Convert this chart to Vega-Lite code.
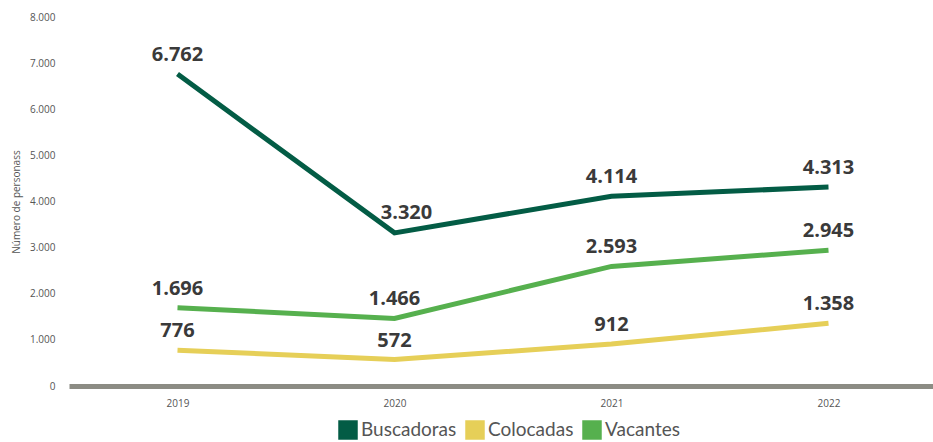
{
  "$schema": "https://vega.github.io/schema/vega-lite/v6.json",
  "width": 866,
  "height": 369,
  "autosize": "none",
  "padding": {"left": 67, "top": 17, "right": 0, "bottom": 56},
  "config": {
    "view": {"stroke": null},
    "font": "Open Sans",
    "locale": {"number": {"decimal": ",", "thousands": ".", "grouping": [3], "currency": ["", " €"]}}
  },
  "data": {
    "values": [
      {"anio": "2019", "serie": "Buscadoras", "valor": 6762},
      {"anio": "2020", "serie": "Buscadoras", "valor": 3320},
      {"anio": "2021", "serie": "Buscadoras", "valor": 4114},
      {"anio": "2022", "serie": "Buscadoras", "valor": 4313},
      {"anio": "2019", "serie": "Colocadas", "valor": 776},
      {"anio": "2020", "serie": "Colocadas", "valor": 572},
      {"anio": "2021", "serie": "Colocadas", "valor": 912},
      {"anio": "2022", "serie": "Colocadas", "valor": 1358},
      {"anio": "2019", "serie": "Vacantes", "valor": 1696},
      {"anio": "2020", "serie": "Vacantes", "valor": 1466},
      {"anio": "2021", "serie": "Vacantes", "valor": 2593},
      {"anio": "2022", "serie": "Vacantes", "valor": 2945}
    ]
  },
  "encoding": {
    "x": {
      "field": "anio", "type": "ordinal",
      "scale": {"paddingInner": 0, "paddingOuter": 0.5, "range": [2, 870]},
      "axis": {"title": null, "labelAngle": 0, "ticks": false, "domainColor": "#8c8c84", "domainWidth": 5, "labelColor": "#555555", "labelFontSize": 10, "labelPadding": 12, "grid": false}
    },
    "y": {
      "field": "valor", "type": "quantitative",
      "scale": {"domain": [0, 8000], "nice": false},
      "axis": {"title": "Número de personass", "titleFontWeight": "normal", "titleFontSize": 10, "titleColor": "#555555", "titlePadding": 8, "values": [0,1000,2000,3000,4000,5000,6000,7000,8000], "format": ",d", "grid": false, "domain": false, "ticks": false, "labelColor": "#555555", "labelFontSize": 10, "labelPadding": 12}
    },
    "color": {
      "field": "serie", "type": "nominal",
      "scale": {"domain": ["Buscadoras", "Colocadas", "Vacantes"], "range": ["#035c45", "#e6cf58", "#56b04e"]},
      "legend": {
        "title": null, "orient": "none", "legendX": 271, "legendY": 403, "direction": "horizontal",
        "symbolType": "square", "symbolSize": 380, "symbolStrokeWidth": 0, "symbolOpacity": 1,
        "labelFontSize": 19, "labelColor": "#555555", "labelOffset": 3, "columnPadding": 8, "labelFont": "Lato",
        "encode": {"symbols": {"update": {"fill": {"scale": "color", "field": "value"}, "strokeWidth": {"value": 0}}}}
      }
    }
  },
  "layer": [
    {"mark": {"type": "line", "strokeWidth": 5, "strokeCap": "butt"}},
    {
      "transform": [{"filter": "!(datum.anio == '2020' && datum.serie == 'Buscadoras')"}],
      "mark": {"type": "text", "dy": -19, "fontSize": 20, "fontWeight": "bold", "color": "#3a3a3a", "font": "Open Sans"},
      "encoding": {"text": {"field": "valor", "type": "quantitative", "format": ",d"}, "color": {"value": "#3a3a3a"}}
    },
    {
      "transform": [{"filter": "datum.anio == '2020' && datum.serie == 'Buscadoras'"}],
      "mark": {"type": "text", "dy": -20, "dx": 12, "fontSize": 20, "fontWeight": "bold", "color": "#3a3a3a", "font": "Open Sans"},
      "encoding": {"text": {"field": "valor", "type": "quantitative", "format": ",d"}, "color": {"value": "#3a3a3a"}}
    }
  ]
}
